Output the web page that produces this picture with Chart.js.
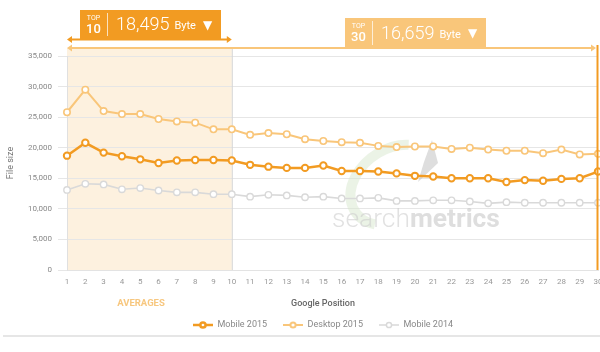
<!DOCTYPE html>
<html>
<head>
<meta charset="utf-8">
<script src="https://cdn.jsdelivr.net/npm/chart.js@4.4.0/dist/chart.umd.min.js"></script>
<style>
  html, body { margin: 0; padding: 0; background: #fff; }
</style>
</head>
<body>
<canvas id="chart" width="600" height="352"></canvas>
<script>
// data
const positions = ['1','2','3','4','5','6','7','8','9','10','11','12','13','14','15','16','17','18','19','20','21','22','23','24','25','26','27','28','29','30'];
const mobile2015 = [18700,20800,19200,18600,18100,17500,17900,18000,18000,17900,17200,16900,16700,16700,17100,16200,16200,16100,15800,15400,15300,15000,15000,15000,14400,14700,14600,14900,15000,16100];
const desktop2015 = [25800,29500,26000,25500,25500,24700,24300,24100,23000,23000,22100,22400,22200,21400,21100,20900,20800,20300,20100,20200,20200,19800,20000,19700,19500,19500,19100,19700,18900,19000];
const mobile2014 = [13100,14100,14000,13200,13400,13000,12700,12700,12400,12400,12000,12300,12200,11900,12000,11700,11700,11800,11300,11300,11400,11400,11200,10900,11100,11000,11000,11000,11000,11000];
const seriesNames = ['Mobile 2015', 'Desktop 2015', 'Mobile 2014'];
const top10Avg = '18,495';
const top30Avg = '16,659';

const ORANGE = '#F29B22';
const LIGHT = '#F9C67A';
const GRAY = '#D9D9D9';
const FONT = 'Roboto, "Noto Sans", sans-serif';

// little line+circle marker for the legend
function legendMarker(color, lw) {
    const c = document.createElement('canvas');
    c.width = 20; c.height = 8;
    const g = c.getContext('2d');
    g.strokeStyle = color;
    g.lineWidth = lw;
    g.beginPath(); g.moveTo(0, 4); g.lineTo(20, 4); g.stroke();
    g.fillStyle = '#fff';
    g.beginPath(); g.arc(10, 4, 2.6, 0, Math.PI * 2); g.fill(); g.stroke();
    return c;
}

function drawBox(ctx, left, top, w, h, color, num, value) {
    ctx.fillStyle = color;
    ctx.fillRect(left, top, w, h);
    ctx.strokeStyle = 'rgba(255,255,255,0.7)';
    ctx.lineWidth = 1;
    ctx.beginPath(); ctx.moveTo(left + 27.5, top + 3); ctx.lineTo(left + 27.5, top + h - 3); ctx.stroke();
    ctx.fillStyle = '#fff';
    ctx.textAlign = 'center';
    ctx.textBaseline = 'middle';
    ctx.font = '7px ' + FONT;
    ctx.fillText('TOP', left + 13.5, top + 8);
    ctx.font = '500 13px ' + FONT;
    ctx.fillText(num, left + 13.5, top + 20);
    ctx.textAlign = 'left';
    ctx.font = '300 18px ' + FONT;
    ctx.fillText(value, left + 36, top + h / 2 + 1);
    const vw = ctx.measureText(value).width;
    ctx.font = '11px ' + FONT;
    ctx.fillText('Byte', left + 36 + vw + 5, top + h / 2 + 2);
    ctx.font = '12px "DejaVu Sans", sans-serif';
    ctx.fillText('▼', left + w - 18, top + h / 2 + 1);
}

function arrowLine(ctx, x1, x2, y, color) {
    ctx.strokeStyle = color;
    ctx.fillStyle = color;
    ctx.lineWidth = 2;
    ctx.beginPath(); ctx.moveTo(x1 + 2, y); ctx.lineTo(x2 - 2, y); ctx.stroke();
    ctx.beginPath(); ctx.moveTo(x1, y); ctx.lineTo(x1 + 5, y - 3.5); ctx.lineTo(x1 + 5, y + 3.5); ctx.fill();
    ctx.beginPath(); ctx.moveTo(x2, y); ctx.lineTo(x2 - 5, y - 3.5); ctx.lineTo(x2 - 5, y + 3.5); ctx.fill();
}

const decor = {
    id: 'decor',
    afterLayout(chart) {
        chart.legend.left += 24;
        chart.legend.right += 24;
    },
    beforeDraw(chart) {
        const { ctx, scales: { x, y } } = chart;
        const x1 = x.getPixelForValue(0), x10 = x.getPixelForValue(9);
        ctx.save();
        ctx.fillStyle = '#FDF1DF';
        ctx.fillRect(x1, 48, x10 - x1, y.bottom - 48);
        ctx.restore();
    },
    beforeDatasetsDraw(chart) {
        const { ctx, scales: { x, y } } = chart;
        const x10 = x.getPixelForValue(9);
        ctx.save();
        // watermark logo
        ctx.strokeStyle = 'rgba(215,232,205,0.5)';
        ctx.lineWidth = 10;
        ctx.beginPath();
        ctx.ellipse(395, 185, 48, 36, -0.6, Math.PI * 0.8, Math.PI * 1.75);
        ctx.stroke();
        ctx.fillStyle = 'rgba(190,190,190,0.5)';
        ctx.beginPath(); ctx.moveTo(432, 140); ctx.lineTo(438, 163); ctx.lineTo(418, 182); ctx.lineTo(424, 162); ctx.fill();
        // watermark text
        ctx.textBaseline = 'alphabetic';
        ctx.textAlign = 'left';
        let size = 28;
        ctx.font = '300 ' + size + 'px ' + FONT;
        let w1 = ctx.measureText('search').width;
        ctx.font = 'bold ' + size + 'px ' + FONT;
        let w2 = ctx.measureText('metrics').width;
        size = size * 168 / (w1 + w2);
        ctx.font = '300 ' + size + 'px ' + FONT;
        w1 = ctx.measureText('search').width;
        ctx.fillStyle = 'rgba(205,205,205,0.6)';
        ctx.fillText('search', 332, 227);
        ctx.font = 'bold ' + size + 'px ' + FONT;
        ctx.fillStyle = 'rgba(195,195,195,0.55)';
        ctx.fillText('metrics', 332 + w1, 227);
        // boundary of the top 10 block
        ctx.strokeStyle = '#D5D5D5';
        ctx.lineWidth = 1;
        ctx.beginPath(); ctx.moveTo(x10 + 0.5, 48); ctx.lineTo(x10 + 0.5, y.bottom); ctx.stroke();
        ctx.restore();
    },
    afterDraw(chart) {
        const { ctx, scales: { x, y } } = chart;
        const x1 = x.getPixelForValue(0), x10 = x.getPixelForValue(9), x30 = x.getPixelForValue(29);
        ctx.save();
        // right marker line
        ctx.strokeStyle = ORANGE;
        ctx.lineWidth = 2;
        ctx.beginPath(); ctx.moveTo(x30 - 0.5, 45); ctx.lineTo(x30 - 0.5, y.bottom); ctx.stroke();
        // ranges
        arrowLine(ctx, x1, x30 - 2, 48, LIGHT);
        arrowLine(ctx, x1, x10, 39.5, ORANGE);
        drawBox(ctx, 80, 10, 141, 29, ORANGE, '10', top10Avg);
        drawBox(ctx, 345, 18, 141, 30, LIGHT, '30', top30Avg);
        // bottom texts
        ctx.textAlign = 'center';
        ctx.textBaseline = 'middle';
        ctx.font = 'bold 9.5px ' + FONT;
        ctx.fillStyle = '#F7C77F';
        ctx.fillText('AVERAGES', 141, 304);
        ctx.fillStyle = '#666';
        ctx.font = '500 9px ' + FONT;
        ctx.fillText('Google Position', 323, 304);
        // separator
        ctx.strokeStyle = '#E6E6E6';
        ctx.lineWidth = 2;
        ctx.beginPath(); ctx.moveTo(3, 336); ctx.lineTo(600, 336); ctx.stroke();
        ctx.restore();
    }
};

const markers = [legendMarker(ORANGE, 2.5), legendMarker(LIGHT, 2), legendMarker(GRAY, 1.5)];

function initChart() {
    const ctx = document.getElementById('chart').getContext('2d');
    new Chart(ctx, {
        type: 'line',
        data: {
            labels: positions,
            datasets: [
                { label: seriesNames[0], data: mobile2015, borderColor: ORANGE, borderWidth: 2.5, pointRadius: 3.2, pointBorderWidth: 2, pointBackgroundColor: '#fff', pointBorderColor: ORANGE, order: 1 },
                { label: seriesNames[1], data: desktop2015, borderColor: LIGHT, borderWidth: 2, pointRadius: 3.2, pointBorderWidth: 1.6, pointBackgroundColor: '#fff', pointBorderColor: LIGHT, order: 2 },
                { label: seriesNames[2], data: mobile2014, borderColor: GRAY, borderWidth: 1.6, pointRadius: 3.2, pointBorderWidth: 1.4, pointBackgroundColor: '#fff', pointBorderColor: GRAY, order: 3 }
            ]
        },
        options: {
            responsive: false,
            animation: false,
            layout: { autoPadding: false, padding: { top: 56, left: 0, right: 2, bottom: 12.5 } },
            plugins: {
                tooltip: { enabled: false },
                legend: {
                    position: 'bottom',
                    labels: {
                        usePointStyle: true,
                        pointStyleWidth: 20,
                        boxHeight: 8,
                        padding: 16,
                        color: '#888',
                        font: { family: FONT, size: 9 },
                        generateLabels: (chart) => chart.data.datasets.map((ds, i) => ({
                            text: ds.label,
                            pointStyle: markers[i],
                            fontColor: '#888',
                            datasetIndex: i,
                            hidden: false,
                            lineWidth: 0
                        }))
                    }
                }
            },
            scales: {
                x: {
                    offset: false,
                    grid: { display: false, drawTicks: false },
                    border: { display: true, color: '#E3E3E3' },
                    ticks: { color: '#999', font: { family: FONT, size: 8 }, padding: 7, maxRotation: 0, autoSkip: false },
                    afterFit(scale) { scale.height = 34.5; scale.paddingLeft = 0; scale.paddingRight = 0; }
                },
                y: {
                    min: 0,
                    max: 35000,
                    grid: { color: '#E6E6E6', tickLength: 9, tickColor: '#E6E6E6' },
                    border: { display: true, color: '#E0E0E0' },
                    ticks: {
                        stepSize: 5000,
                        color: '#888',
                        font: { family: FONT, size: 8 },
                        padding: 6,
                        callback: (v) => v.toLocaleString('en-US')
                    },
                    title: { display: true, text: 'File size', color: '#777', font: { family: FONT, size: 9 }, padding: { top: 5, bottom: 0 } },
                    afterFit(scale) { scale.width = 67; }
                }
            }
        },
        plugins: [decor]
    });
}

window.onload = initChart;
</script>
</body>
</html>
